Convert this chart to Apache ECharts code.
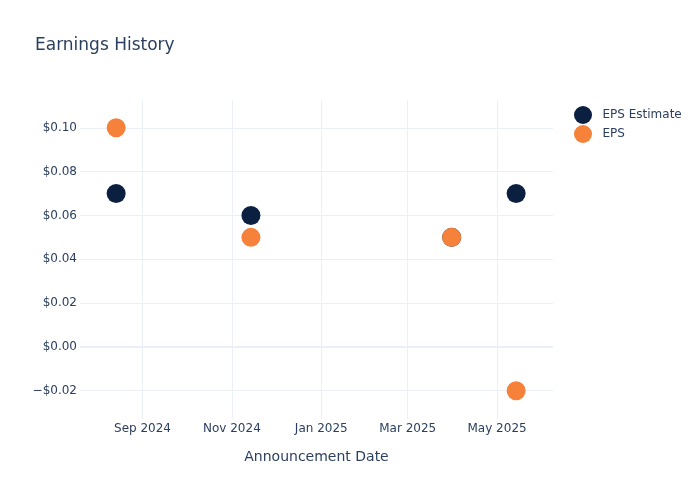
<!DOCTYPE html>
<html>
<head>
<meta charset="utf-8">
<script src="https://cdn.jsdelivr.net/npm/echarts@6/dist/echarts.min.js"></script>
<style>
  html, body { margin: 0; padding: 0; background: #fff; }
  #chart { width: 700px; height: 500px; }
</style>
</head>
<body>
<div id="chart"></div>
<script>
/* ── data ── */
const dates = ["2024-08-14", "2024-11-14", "2025-03-31", "2025-05-14"];
const epsEstimate = [0.07, 0.06, 0.05, 0.07];
const eps = [0.10, 0.05, 0.05, -0.02];
const xTicks = ["2024-09-01", "2024-11-01", "2025-01-01", "2025-03-01", "2025-05-01"];
const yTicks = [-0.02, 0, 0.02, 0.04, 0.06, 0.08, 0.10];

/* ── constants ── */
const DARK = "#0b1f41";
const ORANGE = "#f5813a";
const INK = "#2a3f5f";
const GRID = "#ebf0f8";
const FONT = "DejaVu Sans, sans-serif";
const MONTHS = ["Jan", "Feb", "Mar", "Apr", "May", "Jun", "Jul", "Aug", "Sep", "Oct", "Nov", "Dec"];

const ts = (s) => {
  const [y, m, d] = s.split("-").map(Number);
  return new Date(y, m - 1, d).getTime();
};

const chart = echarts.init(document.getElementById("chart"));

chart.setOption({
  animation: false,
  title: {
    text: "Earnings History",
    left: 30, top: 32,
    textStyle: { fontFamily: FONT, fontWeight: "normal", fontSize: 17, color: INK },
  },
  legend: {
    orient: "vertical",
    left: 569, top: 101,
    itemWidth: 29, itemHeight: 18, itemGap: 1,
    icon: "circle",
    textStyle: { fontFamily: FONT, fontSize: 12, color: INK },
    data: ["EPS Estimate", "EPS"],
  },
  grid: { left: 80, right: 147, top: 100, bottom: 81 },
  xAxis: {
    type: "value",
    min: ts("2024-07-20") + 8 * 3600e3,
    max: ts("2025-06-08") + 4 * 3600e3,
    name: "Announcement Date",
    nameLocation: "middle",
    nameGap: 31,
    nameTextStyle: { fontFamily: FONT, fontSize: 14, color: INK },
    axisLine: { show: false },
    axisTick: { show: false, customValues: xTicks.map(ts) },
    axisLabel: {
      customValues: xTicks.map(ts),
      fontFamily: FONT, fontSize: 12, color: INK, margin: 4,
      formatter: (v) => { const d = new Date(v); return MONTHS[d.getMonth()] + " " + d.getFullYear(); },
    },
    splitLine: { show: true, lineStyle: { color: GRID, width: 1 } },
  },
  yAxis: {
    type: "value",
    min: -0.0329,
    max: 0.1127,
    axisLine: { show: false },
    axisTick: { show: false, customValues: yTicks },
    axisLabel: {
      customValues: yTicks,
      fontFamily: FONT, fontSize: 12, color: INK, margin: 3,
      formatter: (v) => (v < 0 ? "\u2212$" : "$") + Math.abs(v).toFixed(2),
    },
    splitLine: { show: true, lineStyle: { color: GRID, width: 1 } },
  },
  series: [
    {
      name: "EPS Estimate",
      type: "scatter",
      symbolSize: 19,
      itemStyle: { color: DARK, opacity: 1 },
      data: dates.map((d, i) => [ts(d), epsEstimate[i]]),
      markLine: {
        silent: true, symbol: "none", label: { show: false },
        lineStyle: { color: GRID, width: 2, type: "solid" },
        data: [{ yAxis: 0 }],
        z: 1,
      },
      z: 3,
    },
    {
      name: "EPS",
      type: "scatter",
      symbolSize: 19,
      itemStyle: { color: ORANGE, opacity: 1 },
      data: dates.map((d, i) => [ts(d), eps[i]]),
      z: 4,
    },
  ],
});
</script>
</body>
</html>
